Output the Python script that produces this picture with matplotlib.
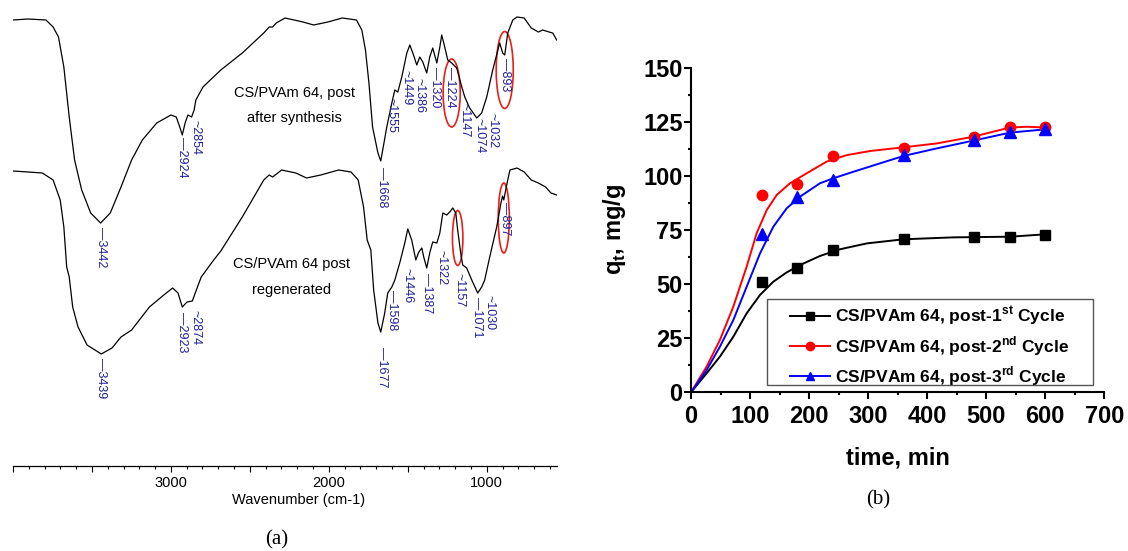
import matplotlib
matplotlib.use("Agg")
from matplotlib import pyplot as plt
from matplotlib.patches import Ellipse, Rectangle
from matplotlib.lines import Line2D
from matplotlib.ticker import MultipleLocator, FuncFormatter

plt.rcParams["font.family"] = "Liberation Sans"
plt.rcParams["mathtext.fontset"] = "custom"
plt.rcParams["mathtext.bf"] = "Liberation Sans:bold"
plt.rcParams["mathtext.rm"] = "Liberation Sans"

# ---- (a) FTIR spectra, transmittance in arbitrary units ----
synth_wn = [4000, 3904, 3791, 3746, 3712, 3678, 3644, 3610, 3565, 3508, 3445,
            3384, 3316, 3249, 3181, 3090, 3000, 2966, 2944, 2928, 2910, 2892,
            2869, 2853, 2842, 2797, 2684, 2548, 2412, 2378, 2356, 2333, 2277,
            2164, 2096, 2006, 1915, 1825, 1791, 1768, 1746, 1723, 1689, 1671,
            1633, 1601, 1582, 1563, 1538, 1506, 1487, 1468, 1443, 1424, 1405,
            1380, 1361, 1342, 1316, 1297, 1285, 1266, 1247, 1222, 1190, 1158,
            1139, 1108, 1063, 1032, 1000, 962, 918, 899, 886, 867, 835, 808,
            763, 718, 673, 646, 605, 582, 557]
synth_t = [446, 447, 446, 439, 429, 399, 349, 306, 276, 253, 243,
           253, 279, 306, 326, 343, 351, 349, 339, 331, 343, 351,
           349, 356, 366, 379, 396, 413, 433, 439, 439, 443, 448,
           444, 441, 444, 448, 446, 436, 416, 383, 339, 313, 305,
           339, 363, 376, 374, 389, 413, 421, 413, 401, 409, 404,
           393, 409, 418, 403, 419, 431, 419, 406, 403, 398, 379,
           369, 358, 348, 353, 369, 396, 423, 413, 411, 433, 446, 449,
           448, 438, 434, 436, 434, 433, 426]

regen_wn = [4000, 3904, 3814, 3746, 3701, 3678, 3660, 3644, 3622, 3588, 3531,
            3441, 3373, 3316, 3249, 3136, 3045, 2989, 2955, 2928, 2898, 2864,
            2846, 2808, 2729, 2684, 2548, 2412, 2378, 2356, 2299, 2209, 2141,
            2051, 1938, 1859, 1814, 1780, 1757, 1734, 1716, 1689, 1671, 1646,
            1627, 1601, 1582, 1551, 1519, 1500, 1475, 1449, 1430, 1411, 1399,
            1380, 1361, 1342, 1316, 1297, 1278, 1253, 1234, 1215, 1196, 1184,
            1165, 1152, 1127, 1095, 1057, 1032, 1013, 981, 937, 910, 900, 892,
            880, 867, 853, 808, 763, 718, 673, 627, 593, 557]
regen_t = [295, 294, 293, 286, 266, 239, 199, 189, 159, 139, 121,
           112, 118, 129, 136, 159, 171, 178, 173, 159, 164, 165,
           173, 189, 206, 215, 249, 286, 291, 289, 296, 293, 288,
           291, 296, 294, 286, 259, 226, 216, 176, 143, 134, 153,
           173, 179, 186, 203, 223, 237, 226, 206, 214, 218, 209,
           198, 213, 224, 223, 233, 253, 251, 254, 258, 253, 236,
           213, 201, 198, 186, 173, 179, 186, 209, 239, 263, 270, 266,
           276, 286, 296, 298, 294, 286, 283, 279, 273, 271]

# peak labels: text, wavenumber, where label starts, leader glyph
synth_peaks = [("3442", 3445, 239, "—"), ("2924", 2928, 329, "—"),
               ("2854", 2846, 346, "~"), ("1668", 1665, 299, "—"),
               ("1555", 1601, 368, "~"), ("1449", 1506, 396, "~"),
               ("1386", 1424, 388, "~"), ("1320", 1329, 399, "—"),
               ("1224", 1234, 399, "—"), ("1147", 1139, 363, "~"),
               ("1074", 1044, 348, "~"), ("1032", 962, 353, "~"),
               ("893", 886, 408, "—")]
regen_peaks = [("3439", 3441, 108, "—"), ("2923", 2928, 154, "—"),
               ("2874", 2842, 156, "~"), ("1677", 1665, 119, "—"),
               ("1598", 1601, 176, "—"), ("1446", 1500, 198, "~"),
               ("1387", 1380, 193, "—"), ("1322", 1285, 216, "~"),
               ("1157", 1171, 193, "~"), ("1071", 1063, 169, "—"),
               ("1030", 981, 171, "~"), ("897", 886, 264, "—")]

# bands circled in red: wavenumber, transmittance at centre
marked_bands = [(1222, 373), (886, 396), (1184, 228), (892, 248)]
marked_sizes = [(108, 68), (108, 77), (66, 55), (70, 70)]

# ---- (b) adsorption kinetics ----
time_pts = [120, 180, 240, 360, 480, 540, 600]
qt_cycle1 = [50.8, 57.6, 65.8, 70.8, 71.6, 71.9, 72.7]
qt_cycle2 = [91.2, 96.3, 109.3, 112.7, 118.1, 122.7, 122.4]
qt_cycle3 = [73.2, 90.4, 98.1, 109.6, 116.6, 120.1, 121.7]

fit1_t = [0, 26.5, 49, 71.7, 94.3, 116.9, 139.4, 162, 184.6, 218.5, 252.4,
          297.6, 359.7, 444.4, 540.4, 599.7]
fit1_q = [0, 8.8, 16.5, 25.7, 36.5, 45, 51.1, 55.4, 58.8, 63, 66.1,
          68.8, 70.7, 71.6, 71.9, 73]
fit2_t = [0, 26.5, 49, 71.7, 94.3, 111.2, 128.2, 145.2, 167.7, 195.9, 229.8,
          263.7, 303.2, 359.7, 416.1, 478.2, 540.4, 568.6, 599.7]
fit2_q = [0, 11.9, 24.2, 39.6, 58.1, 73.5, 84.2, 91.2, 96.6, 101.2, 106.6,
          109.6, 111.5, 113.2, 115, 118.1, 122.4, 122.7, 122.4]
fit3_t = [0, 26.5, 49, 71.7, 94.3, 116.9, 139.4, 162, 184.6, 218.5, 241,
          274.9, 320.1, 359.7, 416.1, 478.2, 540.4, 599.7]
fit3_q = [0, 10.3, 21.1, 33.4, 48.8, 64.2, 76.5, 85, 90.4, 96.6, 98.9,
          101.9, 105.8, 109.2, 112.7, 116.3, 120, 121.5]

cycle_labels = [r"CS/PVAm 64, post-1$^{\mathbf{st}}$ Cycle",
                r"CS/PVAm 64, post-2$^{\mathbf{nd}}$ Cycle",
                r"CS/PVAm 64, post-3$^{\mathbf{rd}}$ Cycle"]

W, H = 1128, 551
fig = plt.figure(figsize=(W / 100, H / 100), dpi=100)
fig.patch.set_facecolor("white")

# ---------- panel (a) ----------
ax1 = fig.add_axes([13 / W, 85 / H, 544 / W, 466 / H])
ax1.plot(synth_wn, synth_t, color="black", lw=0.9)
ax1.plot(regen_wn, regen_t, color="black", lw=0.9)
ax1.set_xlim(4000, 555)
ax1.set_ylim(0, 466)
for s in ["left", "right", "top"]:
    ax1.spines[s].set_visible(False)
ax1.spines["bottom"].set_linewidth(0.9)
ax1.set_yticks([])
ax1.xaxis.set_major_locator(MultipleLocator(500))
ax1.xaxis.set_minor_locator(MultipleLocator(100))
ax1.xaxis.set_major_formatter(
    FuncFormatter(lambda v, p: f"{int(v)}"
                  if v % 1000 == 0 and v < 4000 else ""))
ax1.tick_params(axis="x", which="major", length=4.5, width=0.8, pad=3,
                labelsize=10.5)
ax1.tick_params(axis="x", which="minor", length=2.5, width=0.8)

blue = "#1e1e9a"
for peaks in [synth_peaks, regen_peaks]:
    for label, wn, top, lead in peaks:
        ax1.text(wn, top, lead + label, rotation=270, ha="center", va="top",
                 fontsize=9, color=blue)

for (wn, t), (w, h) in zip(marked_bands, marked_sizes):
    ax1.add_patch(Ellipse((wn, t), w, h, fill=False, edgecolor="#e8201a",
                          lw=1.2))

ax1.text(2220, 373, "CS/PVAm 64, post", ha="center", va="center",
         fontsize=10.5)
ax1.text(2220, 348, "after synthesis", ha="center", va="center",
         fontsize=10.5)
ax1.text(2236, 202, "CS/PVAm 64 post", ha="center", va="center",
         fontsize=10.5)
ax1.text(2236, 176, "regenerated", ha="center", va="center", fontsize=10.5)

fig.text(299 / W, 1 - 500 / H, "Wavenumber (cm-1)", ha="center",
         va="center", fontsize=10.5)
fig.text(277 / W, 1 - 540 / H, "(a)", ha="center", va="center",
         fontsize=15, family="Liberation Serif")

# ---------- panel (b) ----------
ax2 = fig.add_axes([691 / W, (H - 392.3) / H, 413.3 / W, 324.6 / H])
colors = ["black", "red", "blue"]
markers = ["s", "o", "^"]
msizes = [6.5, 7.5, 8]
fits = [(fit1_t, fit1_q), (fit2_t, fit2_q), (fit3_t, fit3_q)]
points = [qt_cycle1, qt_cycle2, qt_cycle3]
for (ft, fq), q, c, m, ms in zip(fits, points, colors, markers, msizes):
    ax2.plot(ft, fq, color=c, lw=1.4, zorder=2)
    ax2.plot(time_pts, q, ls="none", marker=m, ms=ms, color=c, zorder=3,
             clip_on=False)

ax2.set_xlim(0, 700)
ax2.set_ylim(0, 150)
for s in ["right", "top"]:
    ax2.spines[s].set_visible(False)
for s in ["left", "bottom"]:
    ax2.spines[s].set_linewidth(1.5)
ax2.xaxis.set_major_locator(MultipleLocator(100))
ax2.xaxis.set_minor_locator(MultipleLocator(50))
ax2.yaxis.set_major_locator(MultipleLocator(25))
ax2.yaxis.set_minor_locator(MultipleLocator(12.5))
ax2.tick_params(which="major", direction="out", length=5, width=1.5,
                labelsize=17)
ax2.tick_params(which="minor", direction="out", length=2.5, width=1.5)
ax2.tick_params(axis="x", pad=4.5)
ax2.tick_params(axis="y", pad=1)
for lab in ax2.get_xticklabels() + ax2.get_yticklabels():
    lab.set_fontweight("bold")

fig.text(898 / W, 1 - 458 / H, "time, min", ha="center", va="center",
         fontsize=17, fontweight="bold")
fig.text(628 / W, 1 - 230 / H, r"q$_{\mathbf{t}}$, mg/g", ha="right",
         va="center", rotation=90, fontsize=17, fontweight="bold")

handles = [Line2D([], [], color=c, marker=m, ms=ms * 0.8, lw=1.4)
           for c, m, ms in zip(colors, markers, msizes)]
leg = ax2.legend(handles, cycle_labels, loc="upper left",
                 bbox_to_anchor=(790 / W, 1 - 305 / H),
                 bbox_transform=fig.transFigure, frameon=False,
                 borderpad=0, borderaxespad=0, handlelength=2.3,
                 handletextpad=0.3, labelspacing=0.35,
                 prop={"size": 12.5, "weight": "bold"})
fig.add_artist(Rectangle((766.7 / W, 1 - 385 / H), 326.3 / W, 86 / H,
                         transform=fig.transFigure, fill=False,
                         edgecolor="#555555", lw=1.0))

fig.text(878 / W, 1 - 500 / H, "(b)", ha="center", va="center",
         fontsize=15, family="Liberation Serif")

fig.savefig("out.png", dpi=100)
